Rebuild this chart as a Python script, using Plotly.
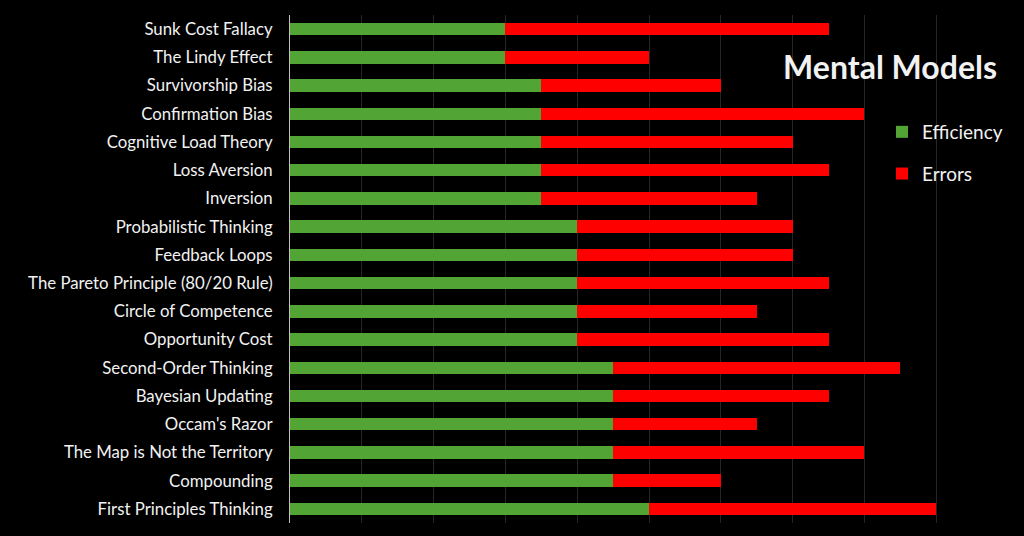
import plotly.graph_objects as go

categories = [
    "Sunk Cost Fallacy", "The Lindy Effect", "Survivorship Bias", "Confirmation Bias",
    "Cognitive Load Theory", "Loss Aversion", "Inversion", "Probabilistic Thinking",
    "Feedback Loops", "The Pareto Principle (80/20 Rule)", "Circle of Competence",
    "Opportunity Cost", "Second-Order Thinking", "Bayesian Updating", "Occam's Razor",
    "The Map is Not the Territory", "Compounding", "First Principles Thinking",
]
efficiency = [3, 3, 3.5, 3.5, 3.5, 3.5, 3.5, 4, 4, 4, 4, 4, 4.5, 4.5, 4.5, 4.5, 4.5, 5]
errors = [4.5, 2, 2.5, 4.5, 3.5, 4, 3, 3, 3, 3.5, 2.5, 3.5, 4, 3, 2, 3.5, 1.5, 4]

FONT = "Lato"
GREEN = "#52a535"
RED = "#ff0000"

fig = go.Figure()
fig.add_trace(go.Bar(y=categories, x=efficiency, name="Efficiency", orientation="h",
                     marker=dict(color=GREEN, line=dict(width=0)), legendgroup="a"))
fig.add_trace(go.Bar(y=categories, x=errors, name="Errors", orientation="h",
                     marker=dict(color=RED, line=dict(width=0)), legendgroup="b"))

fig.update_layout(
    width=1024, height=536,
    barmode="stack", bargap=0.56,
    paper_bgcolor="black", plot_bgcolor="black",
    margin=dict(l=290, r=16, t=15, b=13),
    font=dict(family=FONT, color="#f2f2f2", size=16),
    title=dict(text="<b>Mental Models</b>", x=997/1024, xanchor="right", xref="container",
               y=1-68/536, yanchor="middle", yref="container",
               font=dict(family=FONT, size=32, color="#f2f2f2")),
    legend=dict(x=(882-290)/718, xanchor="left", y=1-(113-15)/508, yanchor="top",
                bgcolor="rgba(0,0,0,0)", font=dict(size=19, color="#f2f2f2"),
                tracegroupgap=14, traceorder="grouped", itemwidth=30),
    xaxis=dict(range=[0, 10], dtick=1, showticklabels=False, showgrid=True,
               gridcolor="#262626", gridwidth=1, zeroline=False, showline=False, fixedrange=True),
    yaxis=dict(categoryorder="array", categoryarray=categories, autorange="reversed",
               showline=True, linecolor="#bfbfbf", linewidth=1, showgrid=False,
               ticks="", ticklabelstandoff=13, tickfont=dict(size=16.8, color="#f2f2f2")),
)

fig.write_html("out.html")
